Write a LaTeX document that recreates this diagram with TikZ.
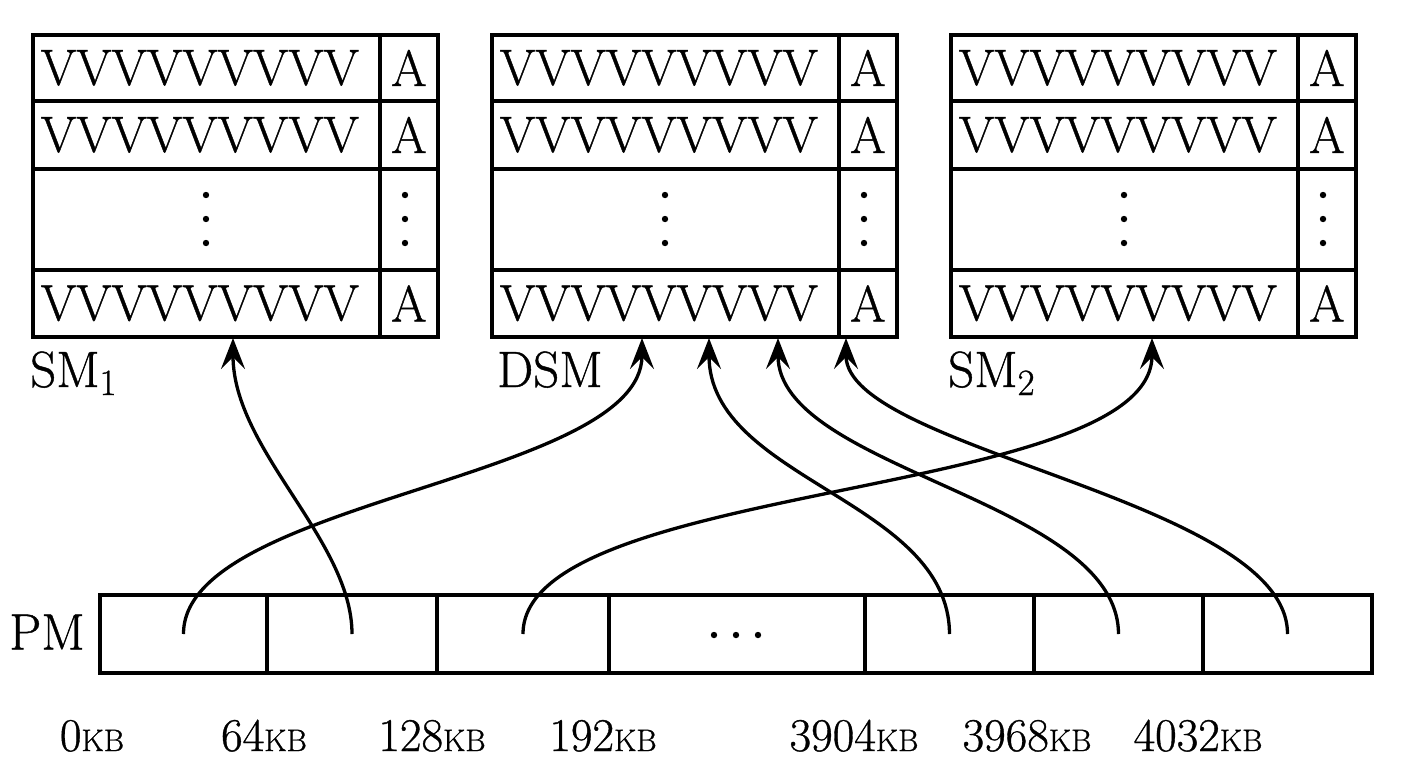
\documentclass[tikz,border=0pt]{standalone}
\usepackage{fontspec}
\setmainfont{Latin Modern Roman}[FakeBold=0.8]
\usetikzlibrary{arrows.meta}
\newcommand\bigsz{\fontsize{51}{60}\selectfont}
\newcommand\labsz{\fontsize{47}{56}\selectfont}
\newcommand\kbtext{{\fontsize{31}{40}\selectfont KB}}
\newcommand\subtx[1]{\raisebox{-8pt}{\fontsize{37}{40}\selectfont #1}}
\begin{document}
\begin{tikzpicture}[x=1pt,y=-1pt,
  frame/.style={draw, line width=3.8pt, inner sep=0pt, anchor=north west},
  vcell/.style={frame, minimum width=347pt, text width=331pt, align=left, inner xsep=8pt, font=\bigsz},
  acell/.style={frame, minimum width=58pt, font=\bigsz},
  pmcell/.style={draw, line width=3.8pt, inner sep=0pt, minimum height=78pt},
  lbl/.style={anchor=base, inner sep=0pt, font=\labsz},
  arr/.style={line width=3.3pt, -{Stealth[length=31pt,width=24pt,inset=12pt]}},
  dot/.style={fill=black}
]
\useasboundingbox (0,0) rectangle (1401,772);
% memory boxes
\foreach \L/\n in {31/sm1, 490/dsm, 949/sm2}{
  \node[vcell, minimum height=66pt]  (\n v1) at (\L,33) {VVVVVVVVV};
  \node[vcell, minimum height=68pt]  (\n v2) at (\L,99) {VVVVVVVVV};
  \node[vcell, minimum height=101pt] (\n v3) at (\L,167) {};
  \node[vcell, minimum height=67pt]  (\n v4) at (\L,268) {VVVVVVVVV};
  \node[acell, minimum height=66pt]  (\n a1) at (\L+347,33) {A};
  \node[acell, minimum height=68pt]  (\n a2) at (\L+347,99) {A};
  \node[acell, minimum height=101pt] (\n a3) at (\L+347,167) {};
  \node[acell, minimum height=67pt]  (\n a4) at (\L+347,268) {A};
  \foreach \yy in {195,219,243}{
    \fill[dot] (\L+175,\yy) circle (3.2pt);
    \fill[dot] (\L+374,\yy) circle (3.2pt);
  }
}
% names
\node[anchor=base west, inner sep=0pt, font=\bigsz] (nsm1) at (30,387) {SM\subtx{1}};
\node[anchor=base west, inner sep=0pt, font=\bigsz] (ndsm) at (497,387) {DSM};
\node[anchor=base west, inner sep=0pt, font=\bigsz] (nsm2) at (948,387) {SM\subtx{2}};
% PM bar
\node[pmcell, minimum width=167pt] (pm1) at (183.5,634) {};
\node[pmcell, minimum width=170pt] (pm2) at (352,634) {};
\node[pmcell, minimum width=172pt] (pm3) at (523,634) {};
\node[pmcell, minimum width=256pt] (pm4) at (737,634) {};
\node[pmcell, minimum width=169pt] (pm5) at (949.5,634) {};
\node[pmcell, minimum width=169pt] (pm6) at (1118.5,634) {};
\node[pmcell, minimum width=169pt] (pm7) at (1287.5,634) {};
\foreach \xx in {714,736,758}{\fill[dot] (\xx,635) circle (3.2pt);}
\node[font=\bigsz, inner sep=0pt] (npm) at (47,632) {PM};
% address labels
\node[lbl] (l0) at (92,751) {0\kbtext};
\node[lbl] (l1) at (264,751) {64\kbtext};
\node[lbl] (l2) at (432,751) {128\kbtext};
\node[lbl] (l3) at (603,751) {192\kbtext};
\node[lbl] (l4) at (854,751) {3904\kbtext};
\node[lbl] (l5) at (1027,751) {3968\kbtext};
\node[lbl] (l6) at (1198,751) {4032\kbtext};
% arrow targets
\coordinate (t1) at (233,338);
\coordinate (t2) at (642,338);
\coordinate (t3) at (709,338);
\coordinate (t4) at (778,338);
\coordinate (t5) at (846,338);
\coordinate (t6) at (1152,338);
% arrows
\draw[arr] (pm1.center) .. controls (183,500) and (642,480) .. (t2);
\draw[arr] (pm2.center) .. controls (352,540) and (233,450) .. (t1);
\draw[arr] (pm3.center) .. controls (523,480) and (1152,500) .. (t6);
\draw[arr] (pm5.center) .. controls (949,500) and (709,480) .. (t3);
\draw[arr] (pm6.center) .. controls (1118,500) and (778,470) .. (t4);
\draw[arr] (pm7.center) .. controls (1288,500) and (846,450) .. (t5);
\end{tikzpicture}
\end{document}
